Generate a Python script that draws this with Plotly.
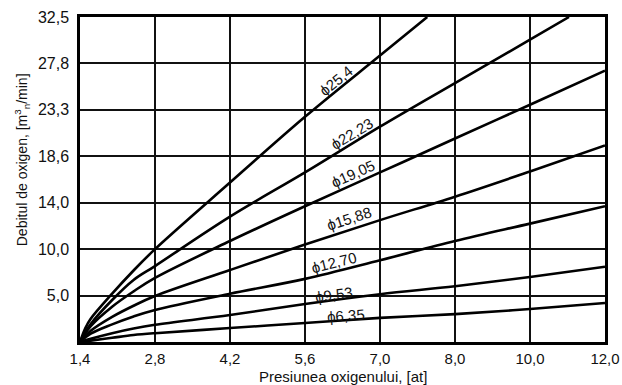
import numpy as np
import plotly.graph_objects as go

# ---- axis scales (non-uniform printed scales) ----
pressure_ticks = [1.4, 2.8, 4.2, 5.6, 7.0, 8.0, 10.0, 12.0]
pressure_labels = ["1,4", "2,8", "4,2", "5,6", "7,0", "8,0", "10,0", "12,0"]
flow_ticks = [0.0, 5.0, 10.0, 14.0, 18.6, 23.3, 27.8, 32.5]
flow_labels = ["", "5,0", "10,0", "14,0", "18,6", "23,3", "27,8", "32,5"]

# ---- series (pressure [at], flow [m3n/min]) ----
p_254 = [1.4, 1.5, 1.6, 2.0, 2.4, 2.8, 4.2, 5.6, 7.0, 7.63]
q_254 = [0.0, 1.5, 2.5, 5.2, 7.7, 10.0, 16.0, 22.6, 28.6, 32.5]

p_2223 = [1.4, 1.5, 1.6, 2.0, 2.4, 2.8, 4.2, 5.6, 7.0, 8.0, 10.0, 11.04]
q_2223 = [0.0, 1.08, 1.94, 4.52, 6.68, 8.18, 12.8, 17.0, 21.6, 25.9, 30.2, 32.5]

p_std = [1.4, 1.6, 2.0, 2.4, 2.8, 4.2, 5.6, 7.0, 8.0, 10.0, 12.0]
q_1905 = [0.0, 1.7, 3.8, 5.45, 6.9, 10.7, 13.7, 17.0, 20.4, 23.8, 27.1]
q_1588 = [0.0, 1.2, 2.7, 3.9, 4.95, 7.75, 10.4, 12.5, 14.6, 17.1, 19.7]
q_1270 = [0.0, 0.9, 1.9, 2.75, 3.45, 5.2, 6.8, 8.8, 10.7, 12.2, 13.7]
q_953 = [0.0, 0.35, 0.95, 1.45, 1.85, 2.9, 4.1, 5.15, 6.0, 7.0, 8.1]
q_635 = [0.0, 0.15, 0.45, 0.75, 0.95, 1.5, 2.05, 2.6, 3.0, 3.55, 4.2]

labels = ["ϕ25,4", "ϕ22,23", "ϕ19,05", "ϕ15,88", "ϕ12,70", "ϕ9,53", "ϕ6,35"]
label_pressure = [6.18, 6.48, 6.5, 6.42, 6.14, 6.14, 6.37]

series = [
    (p_254, q_254), (p_2223, q_2223), (p_std, q_1905), (p_std, q_1588),
    (p_std, q_1270), (p_std, q_953), (p_std, q_635),
]

# styles for labels (rotation, offset above the line in px)
label_angle = [-39, -31, -24, -18, -14, -8, -4]
label_shift = [11, 10, 11, 12, 9, 6, 5]

idx = np.arange(len(pressure_ticks))


def px_scale(v):
    return np.interp(v, pressure_ticks, idx)


def fl_scale(v):
    return np.interp(v, flow_ticks, idx)


FONT = "Liberation Sans, Arial, sans-serif"
fig = go.Figure()

for (p, q) in series:
    fig.add_trace(go.Scatter(
        x=px_scale(p), y=fl_scale(q), mode="lines",
        line=dict(color="#000000", width=2.6, shape="spline", smoothing=1.0),
        showlegend=False, hoverinfo="skip"))

for (p, q), txt, lp, ang, sh in zip(series, labels, label_pressure, label_angle, label_shift):
    xq = px_scale(lp)
    yq = np.interp(xq, px_scale(p), fl_scale(q))
    fig.add_annotation(x=xq, y=yq, text=txt, showarrow=False, textangle=ang,
                       yshift=sh, font=dict(family=FONT, size=15, color="#111"))

fig.add_annotation(xref="paper", yref="paper", x=0.5, y=-0.107,
                   xanchor="center", yanchor="middle",
                   text="Presiunea oxigenului, [at]", showarrow=False,
                   font=dict(family=FONT, size=15, color="#111"))
fig.add_annotation(xref="paper", yref="paper", x=-0.11, y=0.56, textangle=-90,
                   xanchor="center", yanchor="middle",
                   text="Debitul de oxigen, [m<sup>3</sup><sub>n</sub>/min]", showarrow=False,
                   font=dict(family=FONT, size=14, color="#111"))

axis_common = dict(showgrid=True, gridcolor="#111", gridwidth=2, zeroline=False,
                   showline=True, linecolor="#000", linewidth=2.5, mirror=True,
                   automargin=False, ticks="")

fig.update_xaxes(range=[0, 7], tickvals=list(idx), ticktext=pressure_labels,
                 ticklabelstandoff=1, tickfont=dict(family=FONT, size=15, color="#111"),
                 **axis_common)
fig.update_yaxes(range=[0, 7], tickvals=list(idx), ticktext=flow_labels,
                 ticklabelstandoff=5, tickfont=dict(family=FONT, size=16, color="#111"),
                 **axis_common)

fig.update_layout(width=622, height=385, margin=dict(l=80, r=17, t=17, b=43),
                  paper_bgcolor="white", plot_bgcolor="white")

fig.write_html("out.html", config={"displayModeBar": False},
               post_script="document.body.style.margin='0';")
